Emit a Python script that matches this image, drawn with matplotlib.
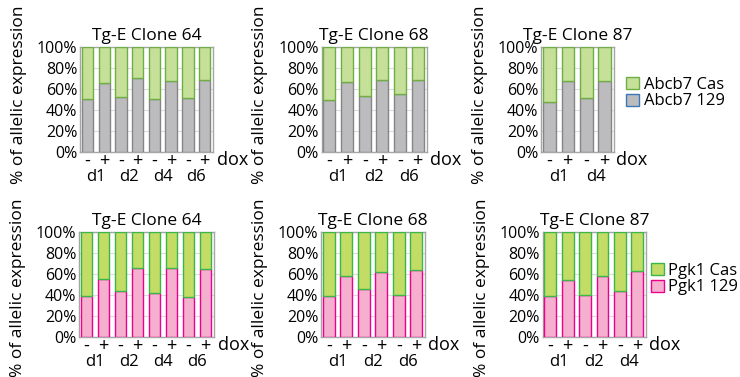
import matplotlib
matplotlib.use("Agg")
import matplotlib.pyplot as plt
from matplotlib.patches import Patch
import numpy as np

plt.rcParams['font.family'] = ['Open Sans', 'DejaVu Sans']

# ---------------- data ----------------
titles = ["Tg-E Clone 64", "Tg-E Clone 68", "Tg-E Clone 87"]
days_top = [["d1", "d2", "d4", "d6"], ["d1", "d2", "d6"], ["d1", "d4"]]
days_bot = [["d1", "d2", "d4", "d6"], ["d1", "d2", "d6"], ["d1", "d2", "d4"]]
dox_labels = ["-", "+"]

abcb7_129 = [
    [50.2, 65.5, 52.0, 70.6, 50.8, 67.7, 51.8, 68.4],
    [50.0, 66.5, 53.5, 68.7, 54.8, 68.4],
    [48.0, 67.4, 51.8, 67.4],
]
pgk1_129 = [
    [38.6, 55.3, 43.7, 65.9, 42.1, 65.9, 37.9, 64.3],
    [38.7, 58.4, 46.0, 61.9, 40.3, 64.1],
    [39.4, 54.6, 39.7, 58.1, 43.5, 63.2],
]
legend_top = ["Abcb7 Cas", "Abcb7 129"]
legend_bot = ["Pgk1 Cas", "Pgk1 129"]
yticks = [0, 20, 40, 60, 80, 100]
ylabel = "% of allelic expression"

# ---------------- styles ----------------
W, H = 740, 377
top_colors = dict(cas_fc="#c6e09a", cas_ec="#6fae45", a_fc="#bcbcbf", a_ec="#858585",
                  leg_ec="#3a78b5")
bot_colors = dict(cas_fc="#c3dc66", cas_ec="#3cb54a", a_fc="#f5b0cf", a_ec="#ec008c",
                  leg_ec="#ec008c")

fig = plt.figure(figsize=(W / 100, H / 100), dpi=100)

def px_axes(x0, x1, y0, y1):
    return fig.add_axes([x0 / W, 1 - y1 / H, (x1 - x0) / W, (y1 - y0) / H])

top_boxes = [(80, 213, 47, 152), (321.5, 426.5, 47, 152), (541, 614, 47, 152)]
bot_boxes = [(79, 214, 232, 337), (321, 425, 232, 337), (542.5, 646, 232, 337)]

FS = 11.5

def draw_panel(box, title, vals, days, c, label_y):
    ax = px_axes(*box)
    n = len(vals)
    x = np.arange(n)
    v = np.array(vals)
    ax.bar(x, v, width=0.68, color=c["a_fc"], edgecolor=c["a_ec"], linewidth=1.0, zorder=3)
    ax.bar(x, 100 - v, bottom=v, width=0.68, color=c["cas_fc"], edgecolor=c["cas_ec"],
           linewidth=1.0, zorder=3)
    ax.set_xlim(-0.45, n - 0.5)
    ax.set_ylim(0, 100)
    ax.set_yticks(yticks)
    ax.set_yticklabels([f"{t}%" for t in yticks])
    ax.yaxis.grid(True, color="#dcdcdc", linewidth=0.8, zorder=0)
    ax.set_axisbelow(True)
    ax.tick_params(axis="y", length=0, pad=2, labelsize=FS)
    # minor ticks: dox -/+
    ax.set_xticks(x, minor=True)
    ax.set_xticklabels([dox_labels[i % 2] for i in range(n)], minor=True)
    ax.set_xticks(x[::2] + 0.5)
    ax.set_xticklabels(days)
    ax.tick_params(axis="x", which="minor", length=0, pad=0, labelsize=13)
    ax.tick_params(axis="x", which="major", length=0, pad=12, labelsize=12)
    for s in ax.spines.values():
        s.set_color("#a6a6a6")
        s.set_linewidth(1.0)
    ax.set_title(title, fontsize=12.5, pad=5)
    ax.set_ylabel(ylabel, fontsize=12.5)
    # place y label in figure pixels, offset relative to the axes left edge
    ax.yaxis.set_label_coords(-53 / (box[1] - box[0]),
                              (box[3] - label_y) / (box[3] - box[2]))
    ax.text(1.03, 0.01, "dox", transform=ax.transAxes, fontsize=13, ha="left", va="top")
    return ax

for box, t, vals, d in zip(top_boxes, titles, abcb7_129, days_top):
    draw_panel(box, t, vals, d, top_colors, 95)
for box, t, vals, d in zip(bot_boxes, titles, pgk1_129, days_bot):
    draw_panel(box, t, vals, d, bot_colors, 288)

h_top = [Patch(facecolor=top_colors["cas_fc"], edgecolor=top_colors["cas_ec"]),
         Patch(facecolor=top_colors["a_fc"], edgecolor=top_colors["leg_ec"])]
fig.legend(h_top, legend_top, loc="center left", bbox_to_anchor=(626 / W, 1 - 93 / H),
           frameon=False, fontsize=12, handlelength=0.75, handleheight=0.75,
           handletextpad=0.3, labelspacing=0.05, borderaxespad=0, borderpad=0)
h_bot = [Patch(facecolor=bot_colors["cas_fc"], edgecolor=bot_colors["cas_ec"]),
         Patch(facecolor=bot_colors["a_fc"], edgecolor=bot_colors["leg_ec"])]
fig.legend(h_bot, legend_bot, loc="center left", bbox_to_anchor=(651 / W, 1 - 279 / H),
           frameon=False, fontsize=12, handlelength=0.75, handleheight=0.75,
           handletextpad=0.3, labelspacing=0.05, borderaxespad=0, borderpad=0)

fig.savefig("out.png", dpi=100)
